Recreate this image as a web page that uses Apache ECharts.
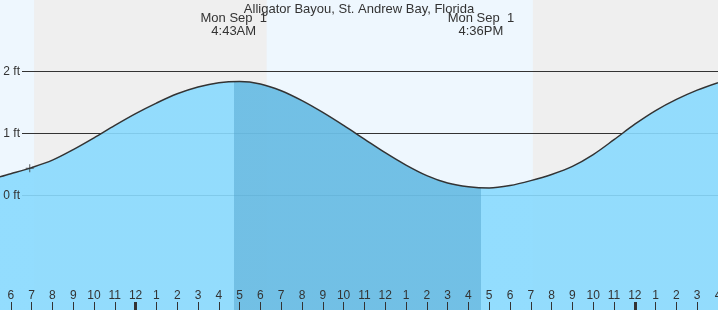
<!DOCTYPE html>
<html><head><meta charset="utf-8">
<script src="https://cdn.jsdelivr.net/npm/echarts@6/dist/echarts.min.js"></script>
<style>html,body{margin:0;padding:0;background:#eef7fe}#c{width:718px;height:310px}</style>
</head><body><div id="c"></div>
<script>
// ---- data (hours relative to midnight Mon Sep 1; heights in ft) ----
var tideHours   = [-6.53,-6,-5,-4,-3,-2,-1,0,1,2,3,4,5,6,7,8,9,10,11,12,13,14,15,16,17,18,19,20,21,22,23,24,25,26,27,28];
var tideHeights = [0.30,0.35,0.45,0.57,0.74,0.93,1.13,1.32,1.49,1.64,1.75,1.82,1.84,1.80,1.69,1.53,1.34,1.13,0.91,0.69,0.49,0.32,0.20,0.14,0.12,0.16,0.24,0.34,0.47,0.66,0.90,1.15,1.37,1.55,1.70,1.82];
var highTime = 4.7167, lowTime = 16.6;
var eventTimes = [highTime, lowTime];
var eventLabels = ['Mon Sep  1\n4:43AM', 'Mon Sep  1\n4:36PM'];
var nightStarts = [-4.88, 19.1];
var nightEnds   = [6.3, 28];
var nowPoint = [-5.09, 0.44];
var levelLines = [0, 1, 2];
var tickHours  = [-6,-5,-4,-3,-2,-1,0,1,2,3,4,5,6,7,8,9,10,11,12,13,14,15,16,17,18,19,20,21,22,23,24,25,26,27,28];
var tickLabels = ['6','7','8','9','10','11','12','1','2','3','4','5','6','7','8','9','10','11','12','1','2','3','4','5','6','7','8','9','10','11','12','1','2','3','4'];
var midnightHours = [0, 24];
var title = 'Alligator Bayou, St. Andrew Bay, Florida';

var FONT = "'Liberation Sans', Arial, sans-serif";
var X_MIN = -6.52, X_MAX = 28.0, Y_MIN = -1.8468, Y_MAX = 3.1532;
var tide = tideHours.map(function(h, i){ return [h, tideHeights[i]]; });

var chart = echarts.init(document.getElementById('c'), null, {renderer:'canvas'});
var nightAreas = nightStarts.map(function(s, i){ return [{xAxis: s}, {xAxis: nightEnds[i]}]; });

chart.setOption({
  animation: false,
  backgroundColor: '#eef7fe',
  title: { text: title, left: 'center', top: -2, textStyle: { fontSize: 13, fontWeight: 'normal', color: '#333', fontFamily: FONT } },
  grid: [
    { left: 0, right: 0, top: 0, bottom: 0, containLabel: false, outerBoundsMode: 'none' },
    { left: 22, right: 0, top: 0, bottom: 0, containLabel: false, outerBoundsMode: 'none' }
  ],
  xAxis: [
    { type: 'value', gridIndex: 0, min: X_MIN, max: X_MAX, z: 10, position: 'bottom',
      axisLine: { show: false, onZero: false }, splitLine: { show: false },
      axisTick: { show: true, inside: true, length: 8, customValues: tickHours, lineStyle: { color: '#333', width: 1 } },
      axisLabel: { show: true, inside: true, margin: 8, customValues: tickHours, color: '#333', fontSize: 12, fontFamily: FONT,
        showMaxLabel: true, hideOverlap: false,
        formatter: function(v){ var i = tickHours.indexOf(Math.round(v)); return i < 0 ? '' : tickLabels[i]; } } },
    { type: 'value', gridIndex: 1, min: X_MIN, max: X_MAX, show: false },
    { type: 'value', gridIndex: 0, min: X_MIN, max: X_MAX, z: 11, position: 'bottom',
      axisLine: { show: false, onZero: false }, splitLine: { show: false }, axisLabel: { show: false },
      axisTick: { show: true, inside: true, length: 8, customValues: midnightHours, lineStyle: { color: '#333', width: 3 } } }
  ],
  yAxis: [
    { type: 'value', gridIndex: 0, min: Y_MIN, max: Y_MAX, show: false },
    { type: 'value', gridIndex: 1, min: Y_MIN, max: Y_MAX, z: 10,
      axisLine: { show: false, onZero: false }, axisTick: { show: false }, splitLine: { show: false },
      axisLabel: { show: true, margin: 2, customValues: levelLines, color: '#333', fontSize: 12, fontFamily: FONT,
        formatter: function(v){ return v + ' ft'; } } }
  ],
  visualMap: {
    type: 'piecewise', show: false, dimension: 0, seriesIndex: 2,
    pieces: [
      { lt: highTime, color: 'rgba(137,218,254,0.9)' },
      { gte: highTime, lt: lowTime, color: 'rgba(107,189,228,0.95)' },
      { gte: lowTime, color: 'rgba(137,218,254,0.9)' }
    ]
  },
  series: [
    { // night bands
      type: 'line', xAxisIndex: 0, yAxisIndex: 0, z: 0, data: tide, showSymbol: false, silent: true,
      lineStyle: { opacity: 0 },
      markArea: { z: 0, silent: true, itemStyle: { color: '#efefef' }, data: nightAreas }
    },
    { // level lines
      type: 'line', xAxisIndex: 1, yAxisIndex: 1, z: 1, data: tide, showSymbol: false, silent: true,
      lineStyle: { opacity: 0 },
      markLine: { z: 1, silent: true, symbol: ['none','none'], label: { show: false },
        lineStyle: { color: '#333', type: 'solid', width: 1 },
        data: levelLines.map(function(v){ return { yAxis: v }; }) }
    },
    { // tide curve
      type: 'line', xAxisIndex: 0, yAxisIndex: 0, z: 2, data: tide, smooth: 0.33, showSymbol: false, silent: true,
      lineStyle: { color: '#333', width: 1.5 },
      areaStyle: { origin: 'start', opacity: 1 }
    },
    { // current time marker
      type: 'scatter', xAxisIndex: 0, yAxisIndex: 0, z: 5, data: [nowPoint], silent: true,
      symbol: 'path://M3.5,0h1v3.5h3.5v1h-3.5v3.5h-1v-3.5h-3.5v-1h3.5z', symbolSize: 8,
      itemStyle: { color: '#333' }
    }
  ]
});

var graphics = eventTimes.map(function(t, i){
  var x = chart.convertToPixel({ xAxisIndex: 0 }, t);
  return { type: 'text', x: x, y: 12.5, z: 20, silent: true,
    style: { text: eventLabels[i], align: 'center', verticalAlign: 'top', lineHeight: 12.5,
      fill: '#333', font: '13px ' + FONT } };
});
chart.setOption({ graphic: graphics });
</script>
</body></html>
